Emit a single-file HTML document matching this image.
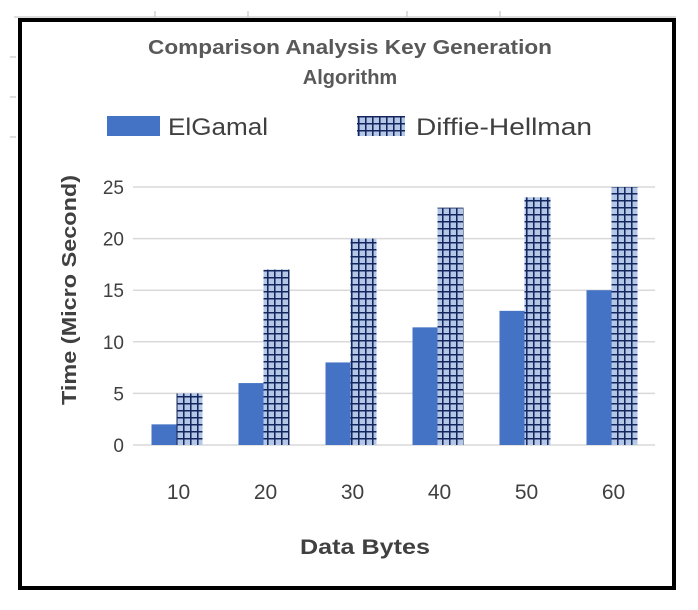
<!DOCTYPE html>
<html><head><meta charset="utf-8"><style>
body{margin:0;background:#fff;width:698px;height:605px;overflow:hidden}
svg text{font-family:"Liberation Sans",sans-serif}
</style></head><body>
<svg width="698" height="605">
<defs>
<pattern id="grid" width="7" height="7" patternUnits="userSpaceOnUse" x="176" y="445">
<rect width="7" height="7" fill="#b4c7e7"/>
<path d="M0 0.75H7M0.75 0V7" stroke="#13275e" stroke-width="1.6"/>
</pattern>
</defs>
<g stroke="#bbb" stroke-width="1">
<line x1="14" y1="17" x2="676" y2="17"/>
<line x1="155" y1="11" x2="155" y2="17"/><line x1="248" y1="11" x2="248" y2="17"/>
<line x1="407" y1="11" x2="407" y2="17"/><line x1="500" y1="11" x2="500" y2="17"/>
<line x1="10" y1="57" x2="16" y2="57"/><line x1="10" y1="97" x2="16" y2="97"/>
<line x1="10" y1="137" x2="16" y2="137"/>
</g>
<rect x="20" y="20" width="654" height="568" fill="#fff" stroke="#000" stroke-width="4"/>
<text x="350" y="54" text-anchor="middle" font-size="20" font-weight="bold" fill="#595959" textLength="404" lengthAdjust="spacingAndGlyphs">Comparison Analysis Key Generation</text>
<text x="350" y="84" text-anchor="middle" font-size="20" font-weight="bold" fill="#595959">Algorithm</text>
<rect x="107" y="116" width="53" height="20" fill="#4472c4"/>
<text x="168" y="135" font-size="24" fill="#404040" textLength="100" lengthAdjust="spacingAndGlyphs">ElGamal</text>
<rect x="357" y="116" width="48" height="20" fill="url(#grid)"/>
<text x="416" y="135" font-size="24" fill="#404040" textLength="176" lengthAdjust="spacingAndGlyphs">Diffie-Hellman</text>
<g id="plot"></g>
<text transform="translate(76,290) rotate(-90)" text-anchor="middle" font-size="20" font-weight="bold" fill="#404040" textLength="230" lengthAdjust="spacingAndGlyphs">Time (Micro Second)</text>
<text x="365" y="554" text-anchor="middle" font-size="21" font-weight="bold" fill="#404040" textLength="130" lengthAdjust="spacingAndGlyphs">Data Bytes</text>
</svg>
<script>
const categories=["10","20","30","40","50","60"];
const elgamal=[2,6,8,11.4,13,15];
const diffie=[5,17,20,23,24,25];
const yTicks=[0,5,10,15,20,25];
const ns="http://www.w3.org/2000/svg";
const g=document.getElementById("plot");
const y0=445,yTop=187,yMax=25,x0=133,x1=655;
const y=v=>y0-(v/yMax)*(y0-yTop);
const step=(x1-x0)/categories.length;
const xc=i=>x0+step*(i+0.5);
function mk(t,a){const e=document.createElementNS(ns,t);for(const k in a)e.setAttribute(k,a[k]);g.appendChild(e);return e;}
yTicks.forEach(v=>{
 const l=mk("line",{x1:x0,x2:x1,y1:y(v),y2:y(v),stroke:"#d9d9d9","stroke-width":1.5});
 
 
 const t=mk("text",{x:x0-9,y:y(v)+7,"text-anchor":"end","font-size":19,fill:"#404040"});
 t.textContent=v;
 
 
});
categories.forEach((c,i)=>{
 const cx=xc(i);
 const b1=mk("rect",{x:cx-25,y:y(elgamal[i]),width:25,height:y0-y(elgamal[i]),fill:"#4472c4"});
 
 
 const b2=mk("rect",{x:cx,y:y(diffie[i]),width:26,height:y0-y(diffie[i]),fill:"url(#grid)"});
 
 
 const t=mk("text",{x:cx+2,y:499,"text-anchor":"middle","font-size":21,fill:"#404040"});
 t.textContent=c;
 
 
});
</script>
</body></html>
